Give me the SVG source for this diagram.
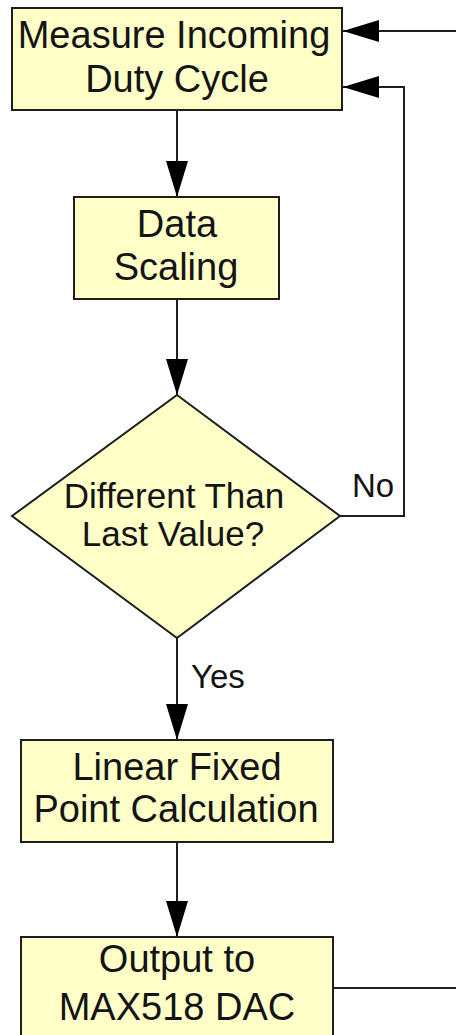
<svg xmlns="http://www.w3.org/2000/svg" width="456" height="1035" viewBox="0 0 456 1035">
<style>
.box{fill:#ffffc8;stroke:#1e1e1e;stroke-width:2}
.t{font-family:"Liberation Sans",Arial,sans-serif;font-size:38px;fill:#141414;text-anchor:middle}
.d{font-size:35px}
.lbl{font-family:"Liberation Sans",Arial,sans-serif;font-size:33px;fill:#141414}
.c{fill:none;stroke:#1e1e1e;stroke-width:2}
</style>
<defs>
<marker id="ah" markerUnits="userSpaceOnUse" markerWidth="38" markerHeight="24" refX="36" refY="12" orient="auto">
<path d="M0,1 L36,12 L0,23 Z" fill="#000"/>
</marker>
</defs>
<rect width="456" height="1035" fill="#fff"/>
<g id="connectors">
<line class="c" x1="177" y1="110" x2="177" y2="197" marker-end="url(#ah)"/>
<line class="c" x1="177" y1="299" x2="177" y2="395" marker-end="url(#ah)"/>
<line class="c" x1="177" y1="638" x2="177" y2="740" marker-end="url(#ah)"/>
<line class="c" x1="177" y1="842" x2="177" y2="937" marker-end="url(#ah)"/>
<polyline class="c" points="340,516 404,516 404,87 343,87" marker-end="url(#ah)"/>
<polyline class="c" points="333,988 456,988"/>
<line class="c" x1="456" y1="31" x2="343" y2="31" marker-end="url(#ah)"/>
<text class="lbl" x="352" y="497">No</text>
<text class="lbl" x="191" y="688">Yes</text>
</g>
<g id="measure">
<rect class="box" x="12" y="8" width="330" height="102"/>
<text class="t" x="174" y="48">Measure Incoming</text>
<text class="t" x="177" y="92">Duty Cycle</text>
</g>
<g id="scaling">
<rect class="box" x="74" y="197" width="205" height="102"/>
<text class="t" x="177" y="237">Data</text>
<text class="t" x="176" y="280">Scaling</text>
</g>
<g id="decision">
<polygon class="box" points="177,395 340,516 177,638 12,516"/>
<text class="t d" x="174" y="508">Different Than</text>
<text class="t d" x="173" y="546">Last Value?</text>
</g>
<g id="calc">
<rect class="box" x="21" y="740" width="312" height="102"/>
<text class="t" x="177" y="780">Linear Fixed</text>
<text class="t" x="176" y="822">Point Calculation</text>
</g>
<g id="output">
<rect class="box" x="21" y="937" width="312" height="110"/>
<text class="t" x="177" y="972">Output to</text>
<text class="t" x="177" y="1020">MAX518 DAC</text>
</g>
</svg>
